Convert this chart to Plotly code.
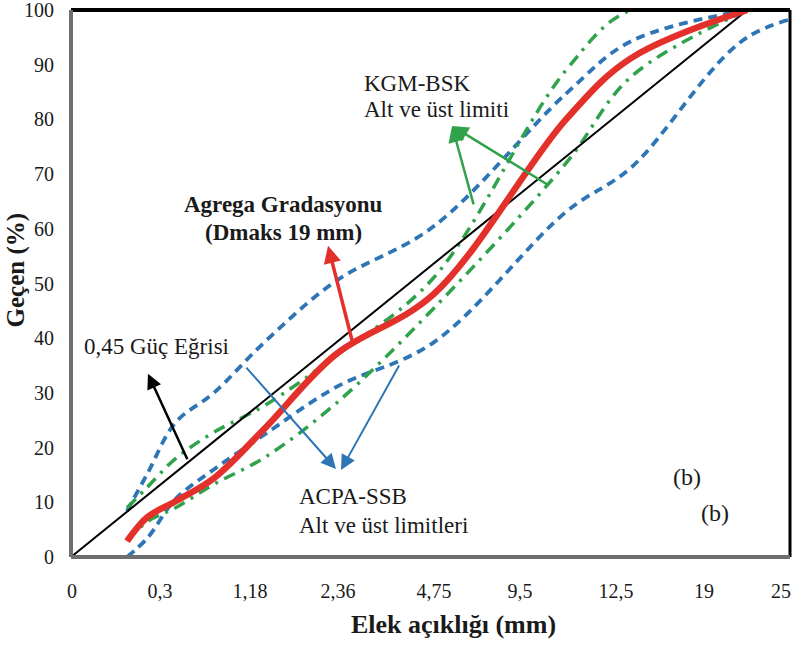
import plotly.graph_objects as go

# ---------------- data ----------------
# sieve openings (mm); the chart's x scale is d^0.45 (0.45 power chart)
sieves = [0.075, 0.15, 0.3, 0.6, 1.18, 2.36, 4.75, 9.5, 12.5, 19, 25]
POWER = 0.45

aggregate = [2.9, 7.3, 10.2, 14.4, 23.5, 37.0, 48.0, 80.0, 91.2, 100.0]          # Agrega gradasyonu
acpa_upper = [8.4, 15.3, 24.6, 30.0, 39.3, 50.4, 60.4, 84.7, 94.3, 100.0]       # ACPA-SSB üst
acpa_lower = [0.0, 3.5, 10.6, 16.0, 22.4, 31.0, 39.2, 63.1, 71.2, 95.0, 100.0]  # ACPA-SSB alt
kgm_upper = [9.0, 12.8, 18.0, 22.8, 27.7, 36.7, 51.0, 89.0, 100.0, 100.0]       # KGM-BSK üst
kgm_lower = [3.0, 6.5, 9.0, 13.3, 18.2, 28.0, 45.4, 72.0, 87.8, 100.0]          # KGM-BSK alt
power_sizes = [0, 19]     # 0,45 güç eğrisi (Dmaks 19 mm)
power_pct = [0, 100]

tick_text = ["0", "0,3", "1,18", "2,36", "4,75", "9,5", "12,5", "19", "25"]
tick_pos = [0.006, 0.495, 0.996, 1.485, 2.019, 2.498, 3.032, 3.522, 3.95]  # where the labels sit
y_ticks = [0, 10, 20, 30, 40, 50, 60, 70, 80, 90, 100]

RED = "#e3302b"
BLUE = "#2e75b6"
GREEN = "#30a24b"
FONT = "Liberation Serif"
TXT = "#1a1a1a"


def px(sizes):
    return [s ** POWER for s in sizes]


fig = go.Figure()

fig.add_trace(go.Scatter(x=px(sieves[:len(acpa_lower)]), y=acpa_lower, mode="lines",
                         line=dict(color=BLUE, width=3.8, dash="9px,6px", shape="spline"),
                         name="ACPA-SSB alt"))
fig.add_trace(go.Scatter(x=px(sieves[:len(acpa_upper)]), y=acpa_upper, mode="lines",
                         line=dict(color=BLUE, width=3.8, dash="9px,6px", shape="spline"),
                         name="ACPA-SSB üst"))
fig.add_trace(go.Scatter(x=px(sieves[:len(kgm_lower)]), y=kgm_lower, mode="lines",
                         line=dict(color=GREEN, width=3.5, dash="12px,7px,3px,7px", shape="spline"),
                         name="KGM-BSK alt"))
fig.add_trace(go.Scatter(x=px(sieves[:len(kgm_upper)]), y=kgm_upper, mode="lines",
                         line=dict(color=GREEN, width=3.5, dash="12px,7px,3px,7px", shape="spline"),
                         name="KGM-BSK üst"))
fig.add_trace(go.Scatter(x=px(power_sizes), y=power_pct, mode="lines",
                         line=dict(color="black", width=2), name="0,45 Güç Eğrisi"))
fig.add_trace(go.Scatter(x=px(sieves[:len(aggregate)]), y=aggregate, mode="lines",
                         line=dict(color=RED, width=6.5, shape="spline"),
                         name="Agrega Gradasyonu"))

annotations = []


def text(x, y, s, size=23, bold=False, xanchor="left"):
    annotations.append(dict(x=x, y=y, xref="x", yref="y", text=f"<b>{s}</b>" if bold else s,
                            showarrow=False, xanchor=xanchor, yanchor="middle",
                            font=dict(family=FONT, size=size, color=TXT)))


def arrow(x0, y0, x1, y1, color, width, size):
    annotations.append(dict(x=x1, y=y1, ax=x0, ay=y0, xref="x", yref="y", axref="x", ayref="y",
                            text="", showarrow=True, arrowhead=2, arrowsize=size,
                            arrowwidth=width, arrowcolor=color, standoff=0, startstandoff=0))


text(1.619, 86.5, "KGM-BSK")
text(1.619, 81.9, "Alt ve üst limiti")
text(1.182, 64.5, "Agrega Gradasyonu", size=23, bold=True, xanchor="center")
text(1.180, 59.4, "(Dmaks 19 mm)", size=23, bold=True, xanchor="center")
text(0.061, 38.4, "0,45 Güç Eğrisi")
text(1.257, 11.0, "ACPA-SSB")
text(1.257, 5.7, "Alt ve üst limitleri")
text(3.427, 14.6, "(b)", size=24, xanchor="center")
text(3.583, 8.0, "(b)", size=24, xanchor="center")

arrow(1.569, 38.9, 1.430, 56.9, RED, 3.5, 1.0)
arrow(0.651, 17.6, 0.428, 33.5, "black", 2.5, 1.2)
arrow(0.968, 34.9, 1.474, 16.1, BLUE, 2, 1.5)
arrow(1.830, 35.3, 1.502, 15.9, BLUE, 2, 1.5)
arrow(2.242, 64.2, 2.120, 78.8, GREEN, 2.5, 1.3)
arrow(2.665, 67.8, 2.120, 78.8, GREEN, 2.5, 1.3)

# axis titles
annotations.append(dict(x=0.5, y=0, xref="paper", yref="paper", xshift=23, yshift=-67,
                        text="<b>Elek açıklığı (mm)</b>", showarrow=False,
                        xanchor="center", yanchor="middle",
                        font=dict(family=FONT, size=26, color=TXT)))
annotations.append(dict(x=0, y=0.5, xref="paper", yref="paper", xshift=-56, yshift=13,
                        text="<b>Geçen (%)</b>", showarrow=False, textangle=-90,
                        xanchor="center", yanchor="middle",
                        font=dict(family=FONT, size=25, color=TXT)))

shapes = [
    dict(type="line", xref="paper", yref="paper", x0=0, x1=1, y0=1, y1=1,
         line=dict(color="black", width=4)),
    dict(type="line", xref="paper", yref="paper", x0=1, x1=1, y0=0, y1=1,
         line=dict(color="black", width=3)),
    dict(type="line", xref="paper", yref="paper", x0=0, x1=0, y0=0, y1=1,
         line=dict(color="#6e6e6e", width=4)),
    dict(type="line", xref="paper", yref="paper", x0=0, x1=1, y0=0, y1=0,
         line=dict(color="#6e6e6e", width=4)),
]

fig.update_layout(
    width=794, height=645,
    margin=dict(l=71, r=4, t=10, b=88),
    paper_bgcolor="white", plot_bgcolor="white",
    showlegend=False,
    font=dict(family=FONT, size=20, color=TXT),
    annotations=annotations,
    shapes=shapes,
    xaxis=dict(range=[0, 4], tickmode="array", tickvals=tick_pos, ticktext=tick_text,
               showgrid=False, zeroline=False, showline=False, ticks="",
               ticklabelstandoff=20, ticklabeloverflow="allow",
               tickfont=dict(family=FONT, size=20, color=TXT),
               automargin=False, fixedrange=True),
    yaxis=dict(range=[0, 100], tickmode="array", tickvals=y_ticks,
               showgrid=False, zeroline=False, showline=False, ticks="",
               ticklabelstandoff=16, ticklabeloverflow="allow",
               tickfont=dict(family=FONT, size=20, color=TXT),
               automargin=False, fixedrange=True),
)

fig.write_html("out.html")
